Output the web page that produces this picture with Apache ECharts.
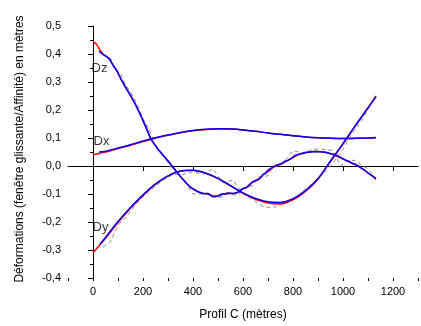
<!DOCTYPE html>
<html><head><meta charset="utf-8">
<script src="https://cdn.jsdelivr.net/npm/echarts@6/dist/echarts.min.js"></script>
<style>html,body{margin:0;padding:0;background:#fff}#c{width:421px;height:326px}</style>
</head><body><div id="c"></div>
<script>
// ---------- data ----------
const xLabelValues = [0, 200, 400, 600, 800, 1000, 1200];
const yLabelValues = [-0.4, -0.3, -0.2, -0.1, 0, 0.1, 0.2, 0.3, 0.4, 0.5];

// Dz (blue, wiggly)
const dzBlueX = [24,40,56,68,80,96,112,128,148,168,186,204,232,260,288,312,330,356,368,388,408,420,428,440,448,460,468,480,488,500,516,528,540,556,568,580,588,600,612,620,636,648,656,668,680,690,696,708,720,736,752,768,780,796,808,828,848,868,888,908,928,948,968,988,1008,1020,1036,1048,1056,1068,1076,1088,1100,1112,1120,1132];
const dzBlueY = [0.41,0.398,0.39,0.38,0.36,0.34,0.31,0.284,0.256,0.224,0.19,0.155,0.095,0.06,0.03,0.005,-0.015,-0.044,-0.055,-0.075,-0.085,-0.092,-0.094,-0.098,-0.1,-0.098,-0.105,-0.11,-0.104,-0.108,-0.1,-0.1,-0.096,-0.098,-0.097,-0.094,-0.09,-0.08,-0.078,-0.074,-0.058,-0.052,-0.05,-0.044,-0.03,-0.026,-0.018,-0.01,-0.004,0.004,0.008,0.017,0.02,0.029,0.038,0.043,0.048,0.05,0.052,0.051,0.049,0.045,0.04,0.032,0.022,0.018,0.01,0.007,0.004,-0.005,-0.012,-0.015,-0.025,-0.032,-0.037,-0.044];
// Dz (red)
const dzRedX = [0,8,14,20,28,40,56,68,80,96,112,128,148,168,186,204,232,260,288,312,330,356,380,400,420,440,460,480,500,520,540,560,580,600,620,640,660,680,700,720,740,760,780,800,820,840,860,880,900,920,940,960,980,1000,1020,1040,1060,1080,1100,1120,1132];
const dzRedY = [0.444,0.44,0.435,0.43,0.414,0.4,0.39,0.378,0.36,0.338,0.31,0.284,0.254,0.222,0.19,0.154,0.095,0.06,0.03,0.005,-0.016,-0.045,-0.068,-0.083,-0.092,-0.098,-0.1,-0.108,-0.106,-0.1,-0.097,-0.098,-0.094,-0.081,-0.074,-0.056,-0.05,-0.032,-0.02,-0.005,0.002,0.01,0.02,0.03,0.04,0.045,0.049,0.052,0.052,0.05,0.047,0.041,0.033,0.025,0.017,0.008,0.002,-0.012,-0.025,-0.038,-0.048];
// Dz raw (grey dashed)
const dzRawX = [40,70,90,110,130,150,175,200,230,250,280,310,340,370,400,430,460,500,540,580,600,640,660,700,720,760,800,840,880,920,960,990,1020,1050,1080,1100,1120];
const dzRawY = [0.4,0.385,0.345,0.33,0.29,0.265,0.225,0.17,0.12,0.07,0.04,0.0,-0.03,-0.06,-0.1,-0.1,-0.1,-0.115,-0.1,-0.105,-0.08,-0.07,-0.04,-0.035,0.0,0.01,0.055,0.045,0.06,0.06,0.055,0.0,0.02,0.02,0.0,-0.01,-0.03];

// Dx
const dxRedX = [0,24,50,100,150,200,250,300,350,400,450,500,550,600,650,700,750,800,850,900,950,1000,1050,1100,1132];
const dxRedY = [0.04,0.045,0.05,0.062,0.074,0.087,0.1,0.11,0.119,0.126,0.13,0.133,0.132,0.129,0.124,0.118,0.113,0.108,0.104,0.101,0.099,0.098,0.099,0.1,0.102];
const dxBlueX = [24,50,100,150,200,250,300,350,400,450,500,550,600,650,700,750,800,850,900,950,1000,1050,1100,1132];
const dxBlueY = [0.05,0.053,0.064,0.076,0.089,0.101,0.111,0.12,0.127,0.131,0.133,0.132,0.129,0.124,0.118,0.113,0.108,0.104,0.101,0.099,0.098,0.099,0.1,0.101];

// Dy
const dyRedX = [0,50,100,150,200,250,300,350,400,450,500,550,600,650,700,750,800,850,900,950,1000,1050,1100,1132];
const dyRedY = [-0.31,-0.258,-0.202,-0.151,-0.105,-0.066,-0.036,-0.018,-0.015,-0.026,-0.045,-0.071,-0.098,-0.119,-0.132,-0.136,-0.121,-0.091,-0.047,0.016,0.078,0.144,0.208,0.25];
const dyBlueX = [28,50,100,150,200,250,300,350,400,450,500,550,600,650,700,750,800,850,900,950,1000,1050,1100,1132];
const dyBlueY = [-0.28,-0.255,-0.198,-0.148,-0.103,-0.064,-0.035,-0.018,-0.015,-0.025,-0.044,-0.07,-0.096,-0.116,-0.128,-0.13,-0.117,-0.088,-0.045,0.018,0.08,0.145,0.207,0.248];
const dyRawX = [40,70,100,130,160,200,240,280,320,360,400,440,480,520,560,600,640,680,720,760,800,840,880,920,960,1000,1040,1080,1110];
const dyRawY = [-0.29,-0.27,-0.21,-0.185,-0.15,-0.11,-0.08,-0.05,-0.03,-0.03,-0.02,-0.03,-0.01,-0.06,-0.05,-0.1,-0.12,-0.145,-0.15,-0.13,-0.12,-0.09,-0.06,-0.03,0.01,0.06,0.12,0.17,0.22];

// curve names and their label anchors (data coords)
const curveNames = ['Dz', 'Dx', 'Dy'];
const curveLabelX = [26, 34, 30];
const curveLabelY = [0.35, 0.088, -0.219];

// ---------- chart ----------
const zip = (xs, ys) => xs.map((x, i) => [x, ys[i]]);
const FONT = '"Liberation Sans", Arial, sans-serif';
const RED = '#ff0000', BLUE = '#0000ff', GREY = '#8c8c8c';

function line(xs, ys, color, width, dashed, smooth) {
  return {
    type: 'line', data: zip(xs, ys), symbol: 'none', smooth: smooth || false,
    lineStyle: { color: color, width: width, type: dashed ? [4, 3] : 'solid' },
    silent: true, animation: false, z: dashed ? 1 : (color === RED ? 2 : 3)
  };
}

const chart = echarts.init(document.getElementById('c'), null, { renderer: 'canvas' });
const axisCommon = {
  axisLine: { show: true, lineStyle: { color: '#000', width: 1 } },
  splitLine: { show: false }
};
chart.setOption({
  animation: false,
  backgroundColor: '#fff',
  grid: { left: 68, right: 3, top: 26, bottom: 42, containLabel: false },
  xAxis: [
    Object.assign({}, axisCommon, {
      type: 'value', min: -100, max: 1300, interval: 100,
      name: 'Profil C (mètres)', nameLocation: 'middle', nameGap: 31,
      nameTextStyle: { fontFamily: FONT, fontSize: 12, color: '#000' },
      axisTick: { show: true, inside: false, length: 5, lineStyle: { color: '#000' }, customValues: xLabelValues },
      axisLabel: { fontFamily: FONT, fontSize: 11, color: '#000', margin: 8, customValues: xLabelValues, formatter: v => String(Math.round(v)) }
    }),
    {
      type: 'value', min: -100, max: 1300, interval: 100, position: 'bottom',
      axisLine: { show: false }, splitLine: { show: false }, axisLabel: { show: false },
      axisTick: { show: true, inside: false, length: 3, lineStyle: { color: '#000' } }
    }
  ],
  yAxis: Object.assign({}, axisCommon, {
    type: 'value', min: -0.4, max: 0.5, interval: 0.1,
    axisTick: { show: true, inside: false, length: 5, lineStyle: { color: '#000' } },
    minorTick: { show: true, splitNumber: 2, length: 3, lineStyle: { color: '#000' } },
    axisLabel: {
      fontFamily: FONT, fontSize: 11, color: '#000', margin: 7,
      formatter: v => { const r = Math.round(v * 10) / 10; return (r === 0 ? 0 : r).toFixed(1).replace('.', ','); }
    }
  }),
  graphic: [{
    type: 'text', x: 20, y: 149, rotation: Math.PI / 2,
    style: { text: 'Déformations (fenêtre glissante/Affinité) en mètres', font: '12px "Liberation Sans", Arial, sans-serif', fill: '#000', align: 'center', verticalAlign: 'middle' }
  }],
  series: [
    line(dzRawX, dzRawY, GREY, 1, true),
    line(dyRawX, dyRawY, GREY, 1, true),
    line(dzRedX, dzRedY, RED, 1.5),
    line(dxRedX, dxRedY, RED, 1.5, false, 0.3),
    line(dyRedX, dyRedY, RED, 1.5, false, 0.3),
    line(dzBlueX, dzBlueY, BLUE, 1.5),
    line(dxBlueX, dxBlueY, BLUE, 1.5, false, 0.3),
    line(dyBlueX, dyBlueY, BLUE, 1.5, false, 0.3),
    {
      type: 'scatter', symbolSize: 1, itemStyle: { color: 'rgba(0,0,0,0)' }, silent: true,
      data: curveNames.map((n, i) => ({ name: n, value: [curveLabelX[i], curveLabelY[i]] })),
      label: { show: true, position: 'inside', formatter: p => p.name, fontFamily: FONT, fontSize: 13, color: '#000' },
      z: 5
    }
  ]
});
</script>
</body></html>
